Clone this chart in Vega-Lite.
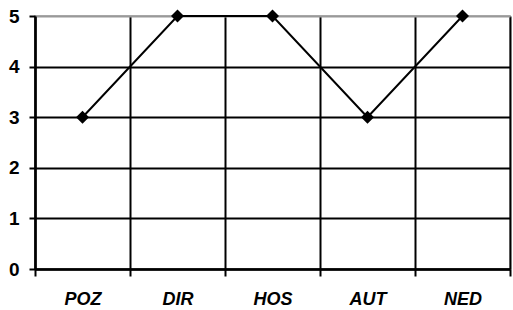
{
  "$schema": "https://vega.github.io/schema/vega-lite/v6.json",
  "autosize": "none",
  "width": 475,
  "height": 253,
  "padding": {"left": 35, "top": 16, "right": 3, "bottom": 41},
  "background": "white",
  "config": {
    "view": {"stroke": "#999", "strokeWidth": 1.5},
    "font": "Liberation Sans"
  },
  "data": {"values": [
    {"cat": "POZ", "v": 3},
    {"cat": "DIR", "v": 5},
    {"cat": "HOS", "v": 5},
    {"cat": "AUT", "v": 3},
    {"cat": "NED", "v": 5}
  ]},
  "encoding": {
    "x": {"field": "cat", "type": "ordinal", "sort": null,
      "scale": {"type": "band", "paddingInner": 0, "paddingOuter": 0},
      "axis": {"title": null, "labelAngle": 0, "labelFont": "Liberation Sans", "labelFontSize": 18, "labelFontWeight": "bold", "labelFontStyle": "italic", "labelColor": "black", "labelPadding": 14, "domain": true, "domainColor": "black", "domainWidth": 2.5, "ticks": true, "tickBand": "extent", "tickColor": "black", "tickWidth": 2, "tickSize": 7, "tickOpacity": 1, "grid": true, "gridColor": "black", "gridWidth": 2, "gridOpacity": 1}},
    "y": {"field": "v", "type": "quantitative",
      "scale": {"domain": [0, 5], "nice": false},
      "axis": {"title": null, "values": [0, 1, 2, 3, 4, 5], "labelFontSize": 19, "labelFontWeight": "bold", "labelColor": "black", "labelPadding": 10, "domain": true, "domainColor": "black", "domainWidth": 2.5, "tickColor": "black", "tickSize": 6, "tickWidth": 2, "gridColor": {"condition": {"test": "datum.value == 5", "value": "#999"}, "value": "black"}, "gridWidth": 2, "gridOpacity": 1}}
  },
  "layer": [
    {"mark": {"type": "line", "color": "black", "strokeWidth": 2}},
    {"mark": {"type": "point", "shape": "diamond", "filled": true, "color": "black", "size": 170, "opacity": 1}}
  ]
}
